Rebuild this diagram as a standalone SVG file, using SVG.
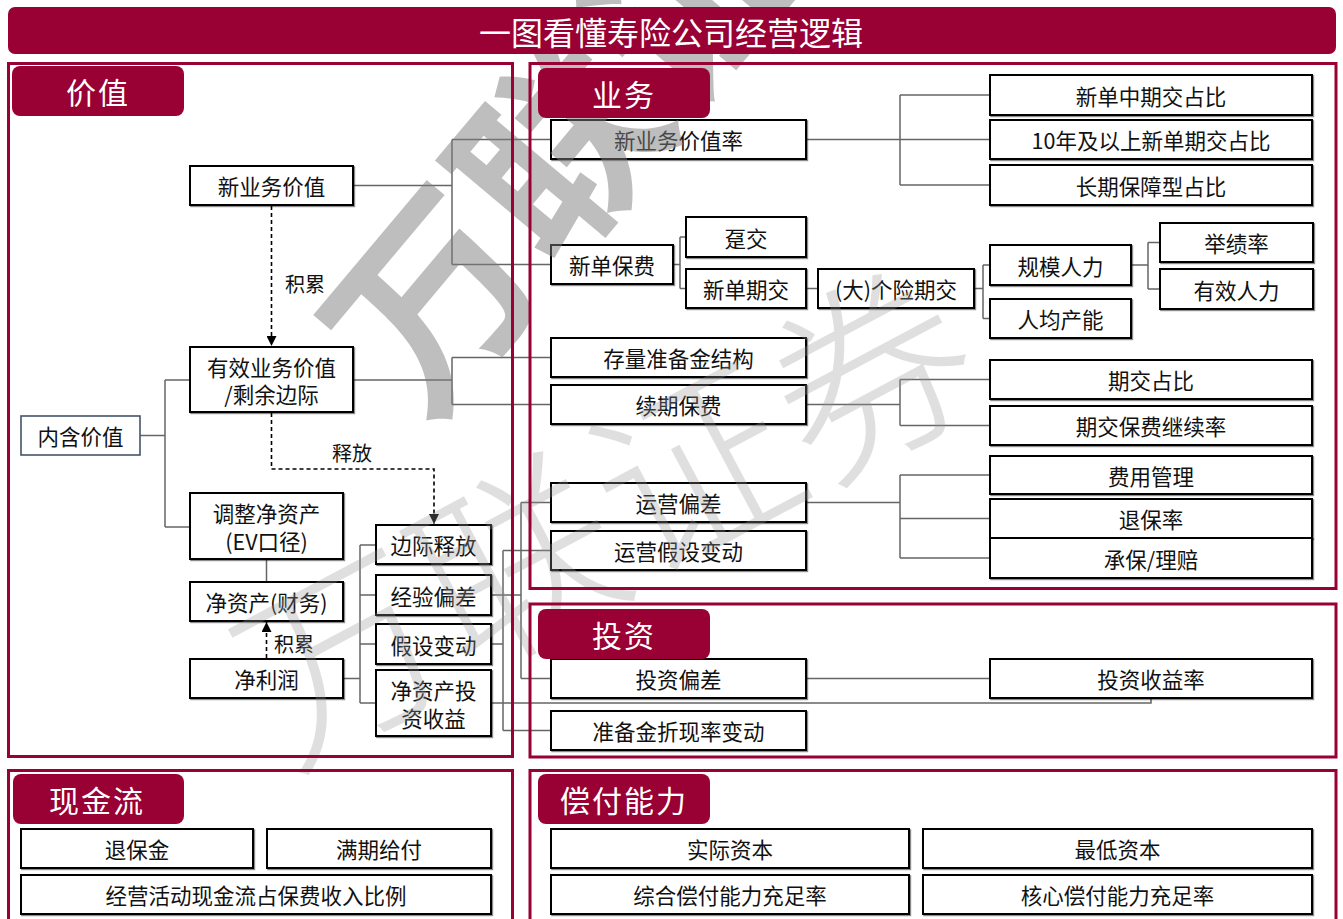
<svg xmlns="http://www.w3.org/2000/svg" width="1343" height="919" viewBox="0 0 1343 919">
<style>
.panel{fill:none;stroke:#990033;stroke-width:3}
.tab{fill:#990033}
.tabt{font-family:"Noto Sans CJK SC","Noto Sans",sans-serif;font-size:30px;fill:#fff;text-anchor:middle;dominant-baseline:central;letter-spacing:2px}
.box{fill:#fff;stroke:#000;stroke-width:2;filter:url(#sh)}
.t{font-family:"Noto Sans CJK SC","Noto Sans",sans-serif;font-size:21.5px;fill:#111;text-anchor:middle;dominant-baseline:central}
.lbl{font-family:"Noto Sans CJK SC","Noto Sans",sans-serif;font-size:20px;fill:#111;text-anchor:middle;dominant-baseline:central}
.con{fill:none;stroke:#666;stroke-width:1.5}
.dash{fill:none;stroke:#000;stroke-width:1.6;stroke-dasharray:4 3}
.wm1{font-family:"Noto Sans CJK SC",sans-serif;font-size:200px;font-weight:bold;fill:#7f7f7f;opacity:0.5;dominant-baseline:central}
.wm2{font-family:"Noto Sans CJK SC",sans-serif;font-size:200px;font-weight:300;fill:#999;opacity:0.3;dominant-baseline:central}
</style>
<defs>
<filter id="sh" x="-5%" y="-10%" width="110%" height="130%">
<feDropShadow dx="1.2" dy="1.2" stdDeviation="0.6" flood-color="#000" flood-opacity="0.45"/>
</filter>
<marker id="ah" viewBox="0 0 10 10" refX="10" refY="5" markerWidth="10" markerHeight="10" markerUnits="userSpaceOnUse" orient="auto">
<path d="M0,0 L10,5 L0,10 z" fill="#000"/>
</marker>
</defs>
<rect width="1343" height="919" fill="#fff"/>

<g id="connectors">
<path class="con" d="M353 185.5 H452 M452 139.5 V264.5 M452 139.5 H551 M452 264.5 H551"/>
<path class="con" d="M353 380 H452 M452 357.5 V404.5 M452 357.5 H551 M452 404.5 H551"/>
<path class="con" d="M140 435.5 H165 M165 380 V527 M165 380 H190 M165 527 H190"/>
<path class="con" d="M266.5 559 V582"/>
<path class="con" d="M343 678.5 H360 M360 545 V703 M360 545 H376 M360 595 H376 M360 644 H376 M360 703 H376"/>
<path class="con" d="M491 595 H521 M521 502.5 V678.5 M521 502.5 H551 M521 678.5 H551"/>
<path class="con" d="M491 644 H503 M503 550.5 V730.5 M503 550.5 H551 M503 730.5 H551"/>
<path class="con" d="M491 703 H1151 V698"/>
<path class="con" d="M806 139.5 H900 M900 95 V185 M900 95 H990 M900 139.5 H990 M900 185 H990"/>
<path class="con" d="M673 264.5 H680 M680 237 V288.5 M680 237 H686 M680 288.5 H686"/>
<path class="con" d="M806 288.5 H818"/>
<path class="con" d="M974 288.5 H983 M983 265 V318.5 M983 265 H990 M983 318.5 H990"/>
<path class="con" d="M1131 265 H1148 M1148 242.5 V289 M1148 242.5 H1160 M1148 289 H1160"/>
<path class="con" d="M806 404.5 H900 M900 379.5 V425.5 M900 379.5 H990 M900 425.5 H990"/>
<path class="con" d="M806 502.5 H900 M900 475 V558 M900 475 H990 M900 518.5 H990 M900 558 H990"/>
<path class="con" d="M806 678.5 H990"/>
<path class="dash" d="M271.5 206 V346" marker-end="url(#ah)"/>
<path class="dash" d="M271.5 413 V469 H434 V524" marker-end="url(#ah)"/>
<path class="dash" d="M266.5 658 V622" marker-end="url(#ah)"/>
<text class="lbl" x="305" y="283">积累</text>
<text class="lbl" x="352" y="452">释放</text>
<text class="lbl" x="294" y="643">积累</text>
</g>

<g id="n-nbv"><rect class="box" x="190" y="166" width="163" height="39"/><text class="t" x="271.5" y="185.5">新业务价值</text></g>
<g id="n-vif"><rect class="box" x="190" y="347" width="163" height="65"/><text class="t" x="271.5" y="366">有效业务价值<tspan x="271.5" dy="27">/剩余边际</tspan></text></g>
<g id="n-ev"><rect x="21" y="416" width="119" height="39" fill="#fff" stroke="#44546a" stroke-width="1.6"/><text class="t" x="80.5" y="435.5">内含价值</text></g>
<g id="n-ana"><rect class="box" x="190" y="493" width="153" height="66"/><text class="t" x="266.5" y="512.5">调整净资产<tspan x="266.5" dy="27.5">(EV口径)</tspan></text></g>
<g id="n-na"><rect class="box" x="190" y="582" width="153" height="39"/><text class="t" x="266.5" y="601.5">净资产(财务)</text></g>
<g id="n-np"><rect class="box" x="190" y="659" width="153" height="39"/><text class="t" x="266.5" y="678.5">净利润</text></g>
<g id="n-mr"><rect class="box" x="376" y="525" width="115" height="39"/><text class="t" x="433.5" y="544.5">边际释放</text></g>
<g id="n-exp"><rect class="box" x="376" y="575" width="115" height="40"/><text class="t" x="433.5" y="595">经验偏差</text></g>
<g id="n-ac"><rect class="box" x="376" y="624" width="115" height="40"/><text class="t" x="433.5" y="644">假设变动</text></g>
<g id="n-nair"><rect class="box" x="376" y="670" width="115" height="66"/><text class="t" x="433.5" y="689">净资产投<tspan x="433.5" dy="27.5">资收益</tspan></text></g>

<g id="n-nbvm"><rect class="box" x="551" y="120" width="255" height="39"/><text class="t" x="678.5" y="139.5">新业务价值率</text></g>
<g id="n-mid"><rect class="box" x="990" y="75" width="322" height="40"/><text class="t" x="1151" y="95">新单中期交占比</text></g>
<g id="n-10y"><rect class="box" x="990" y="120" width="322" height="39"/><text class="t" x="1151" y="139.5">10年及以上新单期交占比</text></g>
<g id="n-prot"><rect class="box" x="990" y="165" width="322" height="40"/><text class="t" x="1151" y="185">长期保障型占比</text></g>
<g id="n-fyp"><rect class="box" x="551" y="245" width="122" height="39"/><text class="t" x="612" y="264.5">新单保费</text></g>
<g id="n-single"><rect class="box" x="686" y="217" width="120" height="40"/><text class="t" x="746" y="237">趸交</text></g>
<g id="n-reg"><rect class="box" x="686" y="269" width="120" height="39"/><text class="t" x="746" y="288.5">新单期交</text></g>
<g id="n-agency"><rect class="box" x="818" y="269" width="156" height="39"/><text class="t" x="896" y="288.5">(大)个险期交</text></g>
<g id="n-force"><rect class="box" x="990" y="245" width="141" height="40"/><text class="t" x="1060.5" y="265">规模人力</text></g>
<g id="n-prod"><rect class="box" x="990" y="299" width="141" height="39"/><text class="t" x="1060.5" y="318.5">人均产能</text></g>
<g id="n-active"><rect class="box" x="1160" y="223" width="153" height="39"/><text class="t" x="1236.5" y="242.5">举绩率</text></g>
<g id="n-eff"><rect class="box" x="1160" y="269" width="153" height="40"/><text class="t" x="1236.5" y="289">有效人力</text></g>
<g id="n-res"><rect class="box" x="551" y="338" width="255" height="39"/><text class="t" x="678.5" y="357.5">存量准备金结构</text></g>
<g id="n-renew"><rect class="box" x="551" y="385" width="255" height="39"/><text class="t" x="678.5" y="404.5">续期保费</text></g>
<g id="n-regshare"><rect class="box" x="990" y="360" width="322" height="39"/><text class="t" x="1151" y="379.5">期交占比</text></g>
<g id="n-persist"><rect class="box" x="990" y="406" width="322" height="39"/><text class="t" x="1151" y="425.5">期交保费继续率</text></g>
<g id="n-opvar"><rect class="box" x="551" y="483" width="255" height="39"/><text class="t" x="678.5" y="502.5">运营偏差</text></g>
<g id="n-opass"><rect class="box" x="551" y="531" width="255" height="39"/><text class="t" x="678.5" y="550.5">运营假设变动</text></g>
<g id="n-cost"><rect class="box" x="990" y="456" width="322" height="38"/><text class="t" x="1151" y="475">费用管理</text></g>
<g id="n-lapse"><rect class="box" x="990" y="499" width="322" height="39"/><text class="t" x="1151" y="518.5">退保率</text></g>
<g id="n-claim"><rect class="box" x="990" y="538" width="322" height="40"/><text class="t" x="1151" y="558">承保/理赔</text></g>

<g id="n-invvar"><rect class="box" x="551" y="659" width="255" height="39"/><text class="t" x="678.5" y="678.5">投资偏差</text></g>
<g id="n-invyield"><rect class="box" x="990" y="659" width="322" height="39"/><text class="t" x="1151" y="678.5">投资收益率</text></g>
<g id="n-disc"><rect class="box" x="551" y="711" width="255" height="39"/><text class="t" x="678.5" y="730.5">准备金折现率变动</text></g>

<g id="n-surr"><rect class="box" x="21" y="829" width="232" height="39"/><text class="t" x="137" y="848.5">退保金</text></g>
<g id="n-mat"><rect class="box" x="267" y="829" width="224" height="39"/><text class="t" x="379" y="848.5">满期给付</text></g>
<g id="n-ocf"><rect class="box" x="21" y="875" width="470" height="39"/><text class="t" x="256" y="894.5">经营活动现金流占保费收入比例</text></g>
<g id="n-actcap"><rect class="box" x="551" y="829" width="358" height="39"/><text class="t" x="730" y="848.5">实际资本</text></g>
<g id="n-mincap"><rect class="box" x="923" y="829" width="389" height="39"/><text class="t" x="1117.5" y="848.5">最低资本</text></g>
<g id="n-comp"><rect class="box" x="551" y="875" width="358" height="39"/><text class="t" x="730" y="894.5">综合偿付能力充足率</text></g>
<g id="n-core"><rect class="box" x="923" y="875" width="389" height="39"/><text class="t" x="1117.5" y="894.5">核心偿付能力充足率</text></g>

<g id="watermark">
<text class="wm1" transform="translate(423,292) rotate(-50)" x="-100" y="0">万联证券</text>
<text class="wm2" transform="translate(335,645) rotate(-28)" x="-100" y="0">万联证券</text>
</g>

<g id="panels">
<rect class="panel" x="8.5" y="63.5" width="504" height="693"/>
<rect class="panel" x="530" y="63.5" width="806" height="525"/>
<rect class="panel" x="530" y="604" width="806" height="153"/>
<rect class="panel" x="8.5" y="770.5" width="504" height="160"/>
<rect class="panel" x="530" y="770.5" width="806" height="160"/>
</g>

<g id="tabs">
<rect class="tab" x="12" y="66" width="172" height="50" rx="8"/><text class="tabt" x="98" y="91">价值</text>
<rect class="tab" x="538" y="68" width="172" height="50" rx="8"/><text class="tabt" x="624" y="93">业务</text>
<rect class="tab" x="538" y="609" width="172" height="50" rx="8"/><text class="tabt" x="624" y="634">投资</text>
<rect class="tab" x="13" y="774" width="171" height="50" rx="8"/><text class="tabt" x="97" y="799">现金流</text>
<rect class="tab" x="538" y="774" width="172" height="50" rx="8"/><text class="tabt" x="624" y="799">偿付能力</text>
</g>

<g id="title">
<rect x="8" y="7" width="1328" height="47" rx="7" fill="#990033"/>
<text x="671" y="31" font-family="Noto Sans CJK SC, Noto Sans, sans-serif" font-size="32" fill="#fff" text-anchor="middle" dominant-baseline="central">一图看懂寿险公司经营逻辑</text>
</g>
</svg>
